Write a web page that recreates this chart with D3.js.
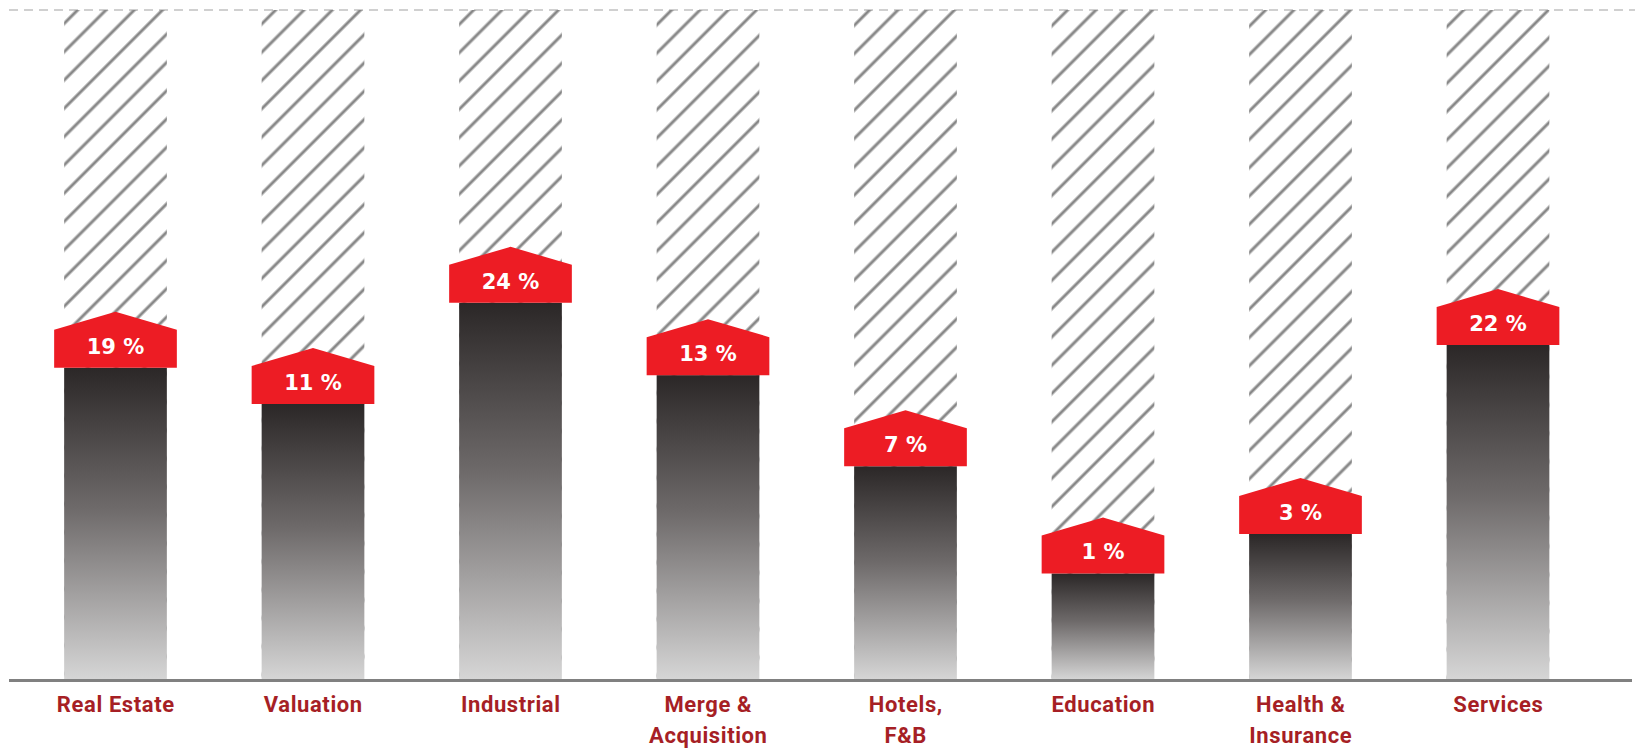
<!DOCTYPE html>
<html>
<head>
<meta charset="utf-8">
<script src="https://cdn.jsdelivr.net/npm/d3@7"></script>
<style>
  body { margin: 0; background: #fff; }
  svg { display: block; }
</style>
</head>
<body>
<svg id="chart" width="1639" height="749"></svg>
<script>
// categories (multi-line labels split on \n)
const categories = ['Real Estate', 'Valuation', 'Industrial', 'Merge &\nAcquisition',
  'Hotels,\nF&B', 'Education', 'Health &\nInsurance', 'Services'];
// the percentage printed on each red cap
const shares = [19, 11, 24, 13, 7, 1, 3, 22];
// how far each dark bar is filled, in % of the hatched track
const fillLevels = [46.6, 41.2, 56.3, 45.5, 31.9, 15.9, 21.8, 50.0];

const svg = d3.select('#chart');
const width = +svg.attr('width');

const data = categories.map((c, i) => ({ cat: c, share: shares[i], level: fillLevels[i] }));

const x = d3.scaleBand()
  .domain(categories)
  .range([16.75, 1596.75])
  .paddingInner(0.48)
  .paddingOuter(0.24);

const y = d3.scaleLinear().domain([0, 100]).range([680, 10]);

const defs = svg.append('defs');

// diagonal hatching for the empty track
const pat = defs.append('pattern')
  .attr('id', 'hatch')
  .attr('patternUnits', 'userSpaceOnUse')
  .attr('width', 20)
  .attr('height', 20)
  .attr('patternTransform', 'rotate(45)');
pat.append('line')
  .attr('x1', 2).attr('y1', 0).attr('x2', 2).attr('y2', 20)
  .attr('stroke', '#888').attr('stroke-width', 3);

// dark to light gradient per bar
const grad = defs.append('linearGradient')
  .attr('id', 'barGrad')
  .attr('x1', 0).attr('y1', 0).attr('x2', 0).attr('y2', 1);
grad.append('stop').attr('offset', '0%').attr('stop-color', '#2b2727');
grad.append('stop').attr('offset', '45%').attr('stop-color', '#6e6a6a');
grad.append('stop').attr('offset', '100%').attr('stop-color', '#d6d6d6');

// dashed line on top
svg.append('line')
  .attr('x1', 9).attr('x2', width - 4)
  .attr('y1', y(100)).attr('y2', y(100))
  .attr('stroke', '#d0d0d0')
  .attr('stroke-width', 2)
  .attr('stroke-dasharray', '9 6');

const g = svg.append('g');

// hatched track
g.selectAll('.track')
  .data(data)
  .join('rect')
  .attr('class', 'track')
  .attr('x', d => x(d.cat))
  .attr('y', y(100))
  .attr('width', x.bandwidth())
  .attr('height', y(0) - y(100))
  .attr('fill', 'url(#hatch)');

// filled bar
g.selectAll('.bar')
  .data(data)
  .join('rect')
  .attr('class', 'bar')
  .attr('x', d => x(d.cat))
  .attr('y', d => y(d.level))
  .attr('width', x.bandwidth())
  .attr('height', d => y(0) - y(d.level))
  .attr('fill', 'url(#barGrad)');

// red house-shaped caps
const capOver = 10, capH = 38, peak = 18;
g.selectAll('.cap')
  .data(data)
  .join('path')
  .attr('class', 'cap')
  .attr('d', d => {
    const x0 = x(d.cat) - capOver, x1 = x(d.cat) + x.bandwidth() + capOver;
    const cx = x(d.cat) + x.bandwidth() / 2;
    const yb = y(d.level), ys = yb - capH;
    return `M${x0},${yb}L${x0},${ys}L${cx},${ys - peak}L${x1},${ys}L${x1},${yb}Z`;
  })
  .attr('fill', '#ed1c24');

g.selectAll('.val')
  .data(data)
  .join('text')
  .attr('class', 'val')
  .attr('x', d => x(d.cat) + x.bandwidth() / 2)
  .attr('y', d => y(d.level) - 14)
  .attr('text-anchor', 'middle')
  .attr('fill', '#fff')
  .attr('font-family', '"DejaVu Sans", sans-serif')
  .attr('font-weight', 700)
  .attr('font-size', 21)
  .text(d => d.share + ' %');

// baseline
svg.append('line')
  .attr('x1', 9).attr('x2', 1632)
  .attr('y1', y(0) + 0.5).attr('y2', y(0) + 0.5)
  .attr('stroke', '#808080')
  .attr('stroke-width', 3);

// category labels
const lab = g.selectAll('.lab')
  .data(data)
  .join('text')
  .attr('class', 'lab')
  .attr('text-anchor', 'middle')
  .attr('fill', '#a61f25')
  .attr('font-family', 'Roboto, sans-serif')
  .attr('font-weight', 700)
  .attr('font-size', 22)
  .attr('letter-spacing', 0.6);
lab.selectAll('tspan')
  .data(d => d.cat.split('\n').map(t => ({ t, cx: x(d.cat) + x.bandwidth() / 2 + 0.3 })))
  .join('tspan')
  .attr('x', d => d.cx)
  .attr('y', (d, i) => 712 + i * 31)
  .text(d => d.t);
</script>
</body>
</html>
